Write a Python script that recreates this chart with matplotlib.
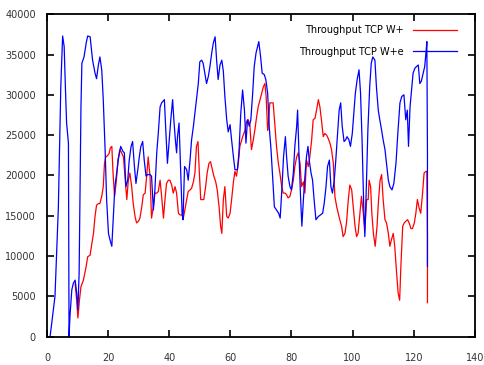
import numpy as np
from matplotlib import pyplot as plt

# Throughput TCP W+e (blue)
wpe_time = [1.0, 2.6, 3.7, 4.5, 5.1, 5.6, 6.0, 6.4, 7.0, 7.2, 7.5, 8.1, 8.6, 9.2, 9.7, 10.1,
            10.5, 10.8, 11.1, 11.4, 12.1, 12.8, 13.3, 14.1, 14.9, 15.7, 16.2, 16.8, 17.3, 17.9,
            18.4, 19.0, 19.5, 20.1, 20.6, 21.2, 21.7, 22.2, 22.8, 23.3, 24.1, 24.8, 25.3, 25.8,
            26.4, 26.9, 27.5, 28.0, 28.6, 29.1, 29.7, 30.2, 30.7, 31.3, 31.8, 32.4, 32.9, 33.7,
            34.2, 34.8, 35.3, 35.9, 36.4, 37.0, 37.5, 38.4, 38.8, 39.4, 39.9, 40.5, 41.1, 41.5,
            42.0, 42.4, 42.7, 43.2, 43.6, 44.2, 44.5, 45.0, 45.7, 46.2, 46.8, 47.3, 47.9, 48.4,
            48.9, 49.5, 50.0, 50.6, 51.1, 51.7, 52.2, 52.8, 53.3, 53.9, 54.4, 55.0, 55.5, 56.0,
            56.6, 57.2, 57.7, 58.2, 58.8, 59.3, 59.9, 60.4, 61.0, 61.5, 62.3, 62.8, 63.4, 64.0,
            64.6, 65.1, 65.6, 66.2, 66.7, 67.3, 67.8, 68.4, 68.9, 69.3, 69.9, 70.4, 71.1, 71.6,
            72.2, 72.7, 73.3, 73.8, 74.4, 75.1, 75.8, 76.3, 76.9, 77.4, 78.0, 78.4, 78.9, 79.5,
            80.0, 80.6, 81.1, 81.7, 82.0, 82.4, 83.0, 83.4, 83.9, 84.4, 84.9, 85.4, 85.8, 86.4,
            86.9, 87.4, 88.0, 88.8, 89.5, 90.2, 90.7, 91.3, 91.8, 92.4, 92.9, 93.4, 94.0, 94.5,
            95.1, 95.6, 96.1, 96.6, 97.2, 97.7, 98.2, 98.8, 99.3, 99.9, 100.4, 100.9, 101.5,
            102.1, 102.6, 103.1, 103.7, 104.0, 104.5, 105.0, 105.6, 106.1, 106.6, 107.3, 107.8,
            108.4, 108.9, 109.5, 110.0, 110.6, 111.1, 111.7, 112.2, 112.9, 113.5, 114.2, 114.8,
            115.5, 116.1, 116.8, 117.4, 117.9, 118.3, 118.8, 119.3, 119.8, 120.4, 120.9, 121.5,
            122.0, 122.5, 123.1, 123.6, 124.1, 124.3, 124.5, 124.5]
wpe_thr = [0, 5000, 16000, 31000, 37300, 36000, 31000, 26500, 24000, 0, 2500, 5800, 6600, 7000,
           5400, 3300, 7900, 18200, 28500, 33900, 34700, 36400, 37300, 37200, 34300, 32700, 32000,
           33700, 34700, 33100, 29400, 23200, 17000, 12800, 12000, 11200, 14900, 18600, 20300,
           21900, 23600, 23000, 22800, 18600, 19400, 21900, 23600, 24200, 21100, 19000, 20700,
           22300, 23600, 24200, 21900, 19900, 20100, 20100, 19900, 15700, 18200, 22800, 25200,
           28500, 29000, 29400, 26100, 21500, 24000, 26900, 29400, 26900, 24400, 22800, 24800,
           26500, 21900, 15300, 14500, 21100, 20700, 19400, 21900, 24400, 26100, 27700, 29400,
           31400, 34100, 34300, 33900, 32500, 31400, 32300, 33500, 35200, 36400, 37200, 34300,
           31900, 33700, 34300, 32900, 29800, 26900, 25400, 26300, 24400, 22300, 20700, 20700,
           22800, 27700, 30600, 28100, 24000, 26900, 26100, 26900, 30200, 33500, 35200, 36000,
           36600, 34700, 32700, 32500, 31900, 30200, 26100, 23200, 19900, 16100, 15700, 15300,
           14700, 18600, 22300, 24800, 22300, 19900, 18600, 18200, 20300, 23600, 26100, 28100,
           23200, 17000, 13700, 17000, 19900, 22300, 23600, 21900, 20300, 19400, 17000, 14500,
           14900, 15100, 15300, 16500, 18600, 21100, 21900, 18600, 17800, 19400, 21900, 25200,
           28100, 29000, 26100, 24200, 24400, 24800, 24400, 23600, 25200, 27700, 30200, 31900,
           33100, 30200, 24400, 15300, 12400, 18600, 25600, 31000, 33900, 34700, 34300, 31000,
           28100, 26900, 25600, 24400, 23200, 21500, 19400, 18600, 18200, 19000, 21500, 25200,
           29000, 29800, 30000, 26900, 28100, 23600, 28500, 30600, 32700, 33300, 33500, 33700,
           31400, 31700, 32700, 33500, 35600, 36600, 22800, 8700]

# Throughput TCP W+ (red)
wp_time = [9.2, 9.7, 10.1, 10.6, 11.1, 11.9, 12.8, 13.3, 14.1, 14.6, 15.2, 15.7, 16.2, 16.8,
           17.3, 17.9, 18.4, 18.8, 19.2, 19.7, 20.3, 20.7, 21.2, 21.6, 22.1, 22.7, 23.2, 23.8,
           24.4, 25.0, 25.5, 26.1, 26.6, 27.1, 27.7, 28.2, 28.8, 29.3, 29.9, 30.4, 31.0, 31.5,
           32.1, 32.6, 33.1, 33.7, 34.2, 34.8, 35.3, 35.9, 36.4, 37.0, 37.5, 38.1, 38.6, 39.1,
           39.7, 40.2, 40.8, 41.3, 41.9, 42.4, 43.0, 43.5, 44.1, 44.6, 45.1, 45.7, 46.2, 46.8,
           47.3, 47.9, 48.4, 48.9, 49.4, 49.8, 50.3, 50.9, 51.3, 51.9, 52.4, 53.0, 53.5, 54.1,
           54.6, 55.2, 55.7, 56.3, 56.8, 57.2, 57.7, 58.2, 58.8, 59.3, 59.9, 60.4, 61.0, 61.5,
           62.0, 62.6, 63.1, 63.7, 64.2, 64.8, 65.3, 65.9, 66.4, 66.9, 67.5, 68.0, 68.6, 69.1,
           69.7, 70.2, 70.8, 71.3, 71.7, 72.2, 72.5, 72.9, 73.5, 74.0, 74.6, 75.1, 75.7, 76.2,
           76.8, 77.3, 77.9, 78.4, 78.9, 79.5, 80.0, 80.6, 81.1, 81.7, 82.2, 82.8, 83.3, 83.9,
           84.4, 84.9, 85.5, 86.0, 86.6, 87.1, 87.7, 88.2, 88.8, 89.3, 89.8, 90.4, 90.9, 91.5,
           92.0, 92.6, 93.1, 93.7, 94.2, 94.8, 95.3, 95.8, 96.4, 96.9, 97.5, 98.0, 98.6, 99.1,
           99.7, 100.2, 100.8, 101.3, 101.8, 102.4, 102.9, 103.5, 104.0, 104.6, 105.1, 105.4,
           105.9, 106.3, 106.8, 107.4, 108.0, 108.5, 109.0, 109.5, 110.0, 110.6, 111.1, 111.7,
           112.2, 112.7, 113.3, 113.8, 114.4, 114.9, 115.4, 115.8, 116.4, 116.9, 117.4, 118.0,
           118.5, 119.1, 119.6, 120.2, 120.7, 121.2, 121.8, 122.3, 122.9, 123.4, 124.0, 124.3,
           124.5, 124.5]
wp_thr = [6500, 4500, 2300, 4500, 6200, 7000, 8700, 9900, 10100, 11400, 12800, 14900, 16300,
          16500, 16500, 17400, 18600, 21500, 22300, 22400, 22700, 23400, 23600, 20300, 17400,
          19400, 21900, 23200, 22800, 22300, 19900, 17000, 19400, 20300, 18600, 16500, 14900,
          14100, 14300, 14700, 16100, 17600, 17800, 19900, 22300, 19900, 14700, 16100, 17800,
          17800, 18000, 19400, 17400, 14700, 17000, 19000, 19400, 19400, 18800, 17800, 18600,
          17800, 15300, 15100, 15100, 14700, 15700, 17000, 18000, 18200, 18400, 19200, 20300,
          23600, 24200, 20700, 17000, 17000, 17000, 18600, 20300, 21500, 21700, 20700, 19900,
          19200, 18200, 16100, 13700, 12800, 17000, 18600, 14900, 14700, 15300, 17000, 19200,
          20500, 19900, 21500, 23600, 24400, 25000, 25600, 26700, 26900, 26100, 23200, 24400,
          25600, 27300, 28500, 29400, 30200, 31000, 31400, 29800, 25600, 26500, 29000, 29000,
          29000, 26100, 23600, 21500, 20300, 18600, 17800, 17800, 17600, 17200, 17400, 18200,
          19400, 21100, 22300, 22800, 21500, 18600, 19200, 17800, 21900, 21100, 22300, 24400,
          26900, 27100, 28100, 29400, 28500, 26900, 24800, 25200, 25000, 24600, 24000, 23200,
          21500, 17400, 16100, 15300, 14500, 13700, 12400, 12800, 14100, 17000, 18800, 18200,
          16100, 13700, 12400, 12800, 15300, 17400, 15300, 13200, 17000, 17000, 19400, 18600,
          15300, 12800, 11200, 13700, 17000, 19400, 20100, 17000, 14500, 14100, 12800, 11200,
          12000, 12800, 11200, 7900, 5400, 4500, 8700, 13700, 14100, 14300, 14500, 14100, 13400,
          13400, 14100, 15300, 17000, 15900, 15300, 17800, 20300, 20500, 20500, 12400, 4200]

labels = ["Throughput TCP W+", "Throughput TCP W+e"]

fig = plt.figure(figsize=(4.85, 3.65), dpi=100)
ax = fig.add_axes([0.097, 0.078, 0.882, 0.883])

ax.plot(wp_time, wp_thr, color="#ff0000", lw=0.9, label=labels[0])
ax.plot(wpe_time, wpe_thr, color="#0000ff", lw=0.9, label=labels[1])

ax.set_xlim(0, 140)
ax.set_ylim(0, 40000)
ax.set_xticks(np.arange(0, 141, 20))
ax.set_yticks(np.arange(0, 40001, 5000))
ax.tick_params(direction="in", length=5, width=1.2, top=True, right=True,
               labelsize=7, colors="black", labelcolor="#333333")
ax.tick_params(axis="x", pad=12)
ax.tick_params(axis="y", pad=8)
for s in ax.spines.values():
    s.set_linewidth(1.3)

ax.legend(loc="upper right", bbox_to_anchor=(0.967, 0.978), frameon=False,
          fontsize=7, markerfirst=False, handlelength=4.5, handletextpad=1.0,
          labelspacing=1.2, borderaxespad=0, borderpad=0.4)

fig.savefig("out.png", dpi=100)
